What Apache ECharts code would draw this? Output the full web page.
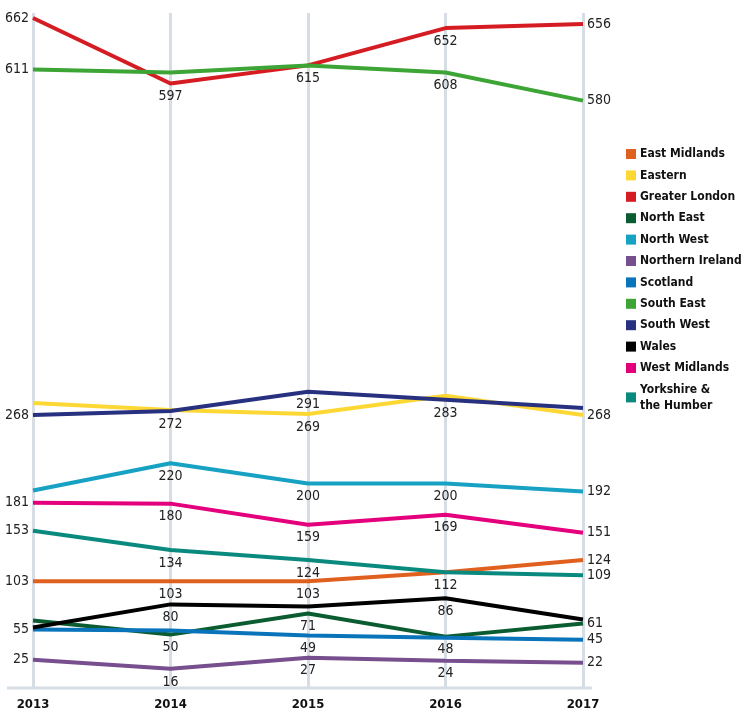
<!DOCTYPE html>
<html>
<head>
<meta charset="utf-8">
<script src="https://cdn.jsdelivr.net/npm/echarts@6/dist/echarts.min.js"></script>
<style>
  html, body { margin: 0; padding: 0; background: #fff; }
  #chart { width: 745px; height: 711px; }
</style>
</head>
<body>
<div id="chart"></div>
<script>
// 年份
const years = ["2013", "2014", "2015", "2016", "2017"];

// 各地区数值
const eastMidlands = [103, 103, 103, 112, 124];
const eastern = [280, 273, 269, 287, 268];
const greaterLondon = [662, 597, 615, 652, 656];
const northEast = [64, 50, 71, 48, 61];
const northWest = [193, 220, 200, 200, 192];
const northernIreland = [25, 16, 27, 24, 22];
const scotland = [55, 54, 49, 47, 45];
const southEast = [611, 608, 615, 608, 580];
const southWest = [268, 272, 291, 283, 275];
const wales = [57, 80, 78, 86, 65];
const westMidlands = [181, 180, 159, 169, 151];
const yorkshire = [153, 134, 124, 112, 109];

// 哪些点显示数值 (年份下标)
const shownEastMidlands = [0, 1, 2, 3, 4];
const shownEastern = [2, 4];
const shownGreaterLondon = [0, 1, 2, 3, 4];
const shownNorthEast = [1, 2, 3, 4];
const shownNorthWest = [1, 2, 3, 4];
const shownNorthernIreland = [0, 1, 2, 3, 4];
const shownScotland = [0, 2, 4];
const shownSouthEast = [0, 3, 4];
const shownSouthWest = [0, 1, 2, 3];
const shownWales = [1, 3];
const shownWestMidlands = [0, 1, 2, 3, 4];
const shownYorkshire = [0, 1, 2, 4];

const regions = [
  { name: "East Midlands", data: eastMidlands, shown: shownEastMidlands, color: "#e0601f" },
  { name: "Eastern", data: eastern, shown: shownEastern, color: "#fdd835" },
  { name: "Greater London", data: greaterLondon, shown: shownGreaterLondon, color: "#d41c22" },
  { name: "North East", data: northEast, shown: shownNorthEast, color: "#0b5c30" },
  { name: "North West", data: northWest, shown: shownNorthWest, color: "#17a2c4" },
  { name: "Northern Ireland", data: northernIreland, shown: shownNorthernIreland, color: "#774e8e" },
  { name: "Scotland", data: scotland, shown: shownScotland, color: "#0a74bb" },
  { name: "South East", data: southEast, shown: shownSouthEast, color: "#3ca535" },
  { name: "South West", data: southWest, shown: shownSouthWest, color: "#283080" },
  { name: "Wales", data: wales, shown: shownWales, color: "#000000" },
  { name: "West Midlands", data: westMidlands, shown: shownWestMidlands, color: "#e4007c" },
  { name: "Yorkshire & the Humber", data: yorkshire, shown: shownYorkshire, color: "#0a8a7e" }
];

const narrow = '"DejaVu Sans Condensed", "Liberation Sans Narrow", sans-serif';

// 标签位置: 首年在左, 末年在右, 其余在下方
function labelFor(i, show) {
  if (!show) return { show: false };
  const edge = i === 0 || i === years.length - 1;
  return {
    show: true,
    position: i === 0 ? "left" : (edge ? "right" : "bottom"),
    distance: edge ? 4 : 6,
    offset: edge ? [0, 2] : [0, 0],
    color: "#222",
    fontFamily: narrow,
    fontSize: 14
  };
}

const series = regions.map(r => ({
  name: r.name,
  type: "line",
  data: r.data.map((v, i) => ({ value: v, label: labelFor(i, r.shown.includes(i)) })),
  showSymbol: true,
  symbol: "circle",
  symbolSize: 0.1,
  lineStyle: { width: 4, color: r.color },
  itemStyle: { color: r.color },
  labelLayout: { hideOverlap: false },
  emphasis: { disabled: true },
  animation: false
}));

const option = {
  backgroundColor: "#fff",
  animation: false,
  grid: { left: 33, right: 162, top: 13, bottom: 23 },
  xAxis: {
    type: "category",
    data: years,
    boundaryGap: false,
    axisLine: { show: false },
    axisTick: { show: false },
    splitLine: { show: true, lineStyle: { color: "#d6dde4", width: 3 } },
    axisLabel: {
      margin: 10,
      color: "#111",
      fontFamily: narrow,
      fontWeight: "bold",
      fontSize: 13
    }
  },
  yAxis: {
    type: "value",
    min: -3,
    max: 667,
    show: false
  },
  legend: {
    orient: "vertical",
    left: 621,
    top: 141,
    icon: "rect",
    itemWidth: 10,
    itemHeight: 10,
    itemGap: 5.4,
    data: regions.map(r => r.name),
    formatter: name => name === "Yorkshire & the Humber" ? "Yorkshire &\nthe Humber" : name,
    textStyle: {
      color: "#111",
      fontFamily: narrow,
      fontWeight: "bold",
      fontSize: 12,
      lineHeight: 16,
      padding: [0, 0, 0, -1]
    }
  },
  graphic: [
    {
      type: "line",
      shape: { x1: 7, y1: 688, x2: 592, y2: 688 },
      style: { stroke: "#d6dde4", lineWidth: 3 },
      z: 0
    }
  ],
  series: series
};

const myChart = echarts.init(document.getElementById("chart"));
myChart.setOption(option);
</script>
</body>
</html>
